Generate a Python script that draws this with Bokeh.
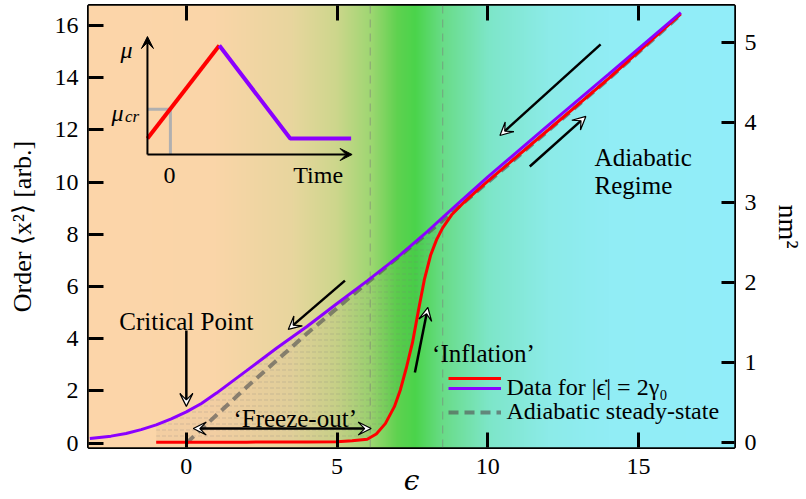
import numpy as np
from bokeh.plotting import figure
from bokeh.models import (Range1d, LinearAxis, FixedTicker, Label, Arrow, VeeHead,
                          Span, Legend, LegendItem, CustomLabelingPolicy)
from bokeh.core.properties import value
from bokeh.embed import file_html
from bokeh.resources import INLINE

# ---------------- data ----------------
eps_purple = [-3.2, -2.5, -2.0, -1.5, -1.0, -0.5, 0.0, 0.5, 1.0, 1.5, 2.0, 3.0, 4.0,
              5.0, 6.0, 7.0, 8.0, 9.0, 10.0, 12.0, 14.0, 16.4]
x2_purple = [0.18, 0.27, 0.37, 0.52, 0.70, 0.93, 1.20, 1.52, 1.92, 2.35, 2.78, 3.65, 4.47,
             5.35, 6.22, 7.12, 8.12, 9.17, 10.20, 12.18, 14.13, 16.50]

eps_red = [-1.0, 0.0, 2.0, 4.0, 5.0, 5.5, 6.0, 6.3, 6.6, 6.9, 7.1, 7.3, 7.5, 7.7, 7.9,
           8.1, 8.3, 8.5, 8.8, 9.2, 9.6, 10.0, 12.0, 14.0, 16.4]
x2_red = [0.04, 0.04, 0.04, 0.05, 0.06, 0.09, 0.15, 0.35, 0.75, 1.40, 2.05, 2.90, 3.85,
          5.10, 6.30, 7.20, 7.80, 8.25, 8.75, 9.22, 9.64, 10.04, 12.00, 13.97, 16.45]

eps_adiab = [0.0, 2.0, 4.0, 6.0, 8.0, 10.0, 12.0, 14.0, 16.4]
x2_adiab = [0.0, 2.15, 4.20, 6.15, 8.05, 10.00, 11.97, 13.95, 16.42]

regime_bounds = [6.1, 8.5]

x_ticks = [0, 5, 10, 15]
y_ticks = [0, 2, 4, 6, 8, 10, 12, 14, 16]
nm_ticks = [0, 1, 2, 3, 4, 5]

# inset schematic: sweep of mu versus time
inset_time_up = [0.0, 7.2]
inset_mu_up = [1.6, 10.9]
inset_time_down = [7.2, 14.3, 20.4]
inset_mu_down = [10.9, 1.6, 1.6]
inset_t_cr = 2.3
inset_mu_cr = 4.53

# background colour stops (epsilon -> rgb)
bg_eps = [-3.3, 1.0, 3.5, 5.0, 6.1, 7.0, 7.6, 8.5, 10.0, 12.0, 14.0, 18.3]
bg_rgb = [(253, 214, 170), (250, 213, 168), (232, 214, 158), (205, 214, 140),
          (160, 215, 115), (95, 210, 80), (75, 212, 75), (105, 220, 135),
          (125, 230, 200), (140, 235, 232), (145, 237, 245), (146, 238, 250)]

FONT = "Liberation Serif, serif"
FS_TICK = "24px"
FS = "25px"

X0, X1 = -3.245, 18.18
Y0, Y1 = -0.165, 16.77

p = figure(width=806, height=499, output_backend="svg", toolbar_location=None,
           x_range=Range1d(X0, X1), y_range=Range1d(Y0, Y1),
           min_border_left=88, min_border_right=71, min_border_top=5,
           min_border_bottom=52)
p.extra_y_ranges = {"nm": Range1d(-0.066, 5.459)}
p.grid.visible = False
p.outline_line_color = "black"
p.outline_line_width = 3
p.background_fill_color = "#fdd6aa"
p.border_fill_color = "white"

# ---- background gradient ----
N = 650
gx = np.linspace(X0, X1, N)
img = np.empty((1, N), dtype=np.uint32)
view = img.view(dtype=np.uint8).reshape((1, N, 4))
for c in range(3):
    view[0, :, c] = np.interp(gx, bg_eps, [rgb[c] for rgb in bg_rgb]).astype(np.uint8)
view[0, :, 3] = 255
bg = p.image_rgba(image=[img], x=X0, y=Y0, dw=X1 - X0, dh=Y1 - Y0)
bg.level = "image"

for b in regime_bounds:
    p.add_layout(Span(location=b, dimension="height", line_color="#7a7a7a",
                      line_alpha=0.45, line_dash="8 6", line_width=1.3, level="underlay"))

# ---- hatched hysteresis region between the two sweeps ----
hx = [e for e in eps_purple if -1.0 <= e <= 9.0] + [e for e in eps_red if -1.0 <= e <= 9.2][::-1]
hy = [v for e, v in zip(eps_purple, x2_purple) if -1.0 <= e <= 9.0] + \
     [v for e, v in zip(eps_red, x2_red) if -1.0 <= e <= 9.2][::-1]
p.patch(hx, hy, fill_color="black", fill_alpha=0.03, line_color=None,
        hatch_pattern="horizontal_dash", hatch_color="#777777", hatch_alpha=0.25,
        hatch_scale=6, hatch_weight=1)

# ---- curves ----
dash_r = p.line(eps_adiab, x2_adiab, line_color="#555555", line_alpha=0.65,
                line_width=4, line_dash="10 6")
red_r = p.line(eps_red, x2_red, line_color="#ff0000", line_width=3)
purple_r = p.line(eps_purple, x2_purple, line_color="#8b00ff", line_width=3)

# ---- axes ----
def style_axis(ax, tick_in):
    ax.axis_line_color = None
    ax.major_tick_in = tick_in
    ax.major_tick_out = 0
    ax.major_tick_line_width = 3
    ax.major_tick_line_color = "black"
    ax.minor_tick_line_color = None
    ax.major_label_text_font = FONT
    ax.major_label_text_font_size = FS_TICK
    ax.major_label_text_color = "black"
    ax.axis_label_text_font = FONT
    ax.axis_label_text_font_size = FS
    ax.axis_label_text_font_style = "normal"
    ax.axis_label_text_color = "black"

xa = p.xaxis[0]
xa.ticker = FixedTicker(ticks=x_ticks)
style_axis(xa, 15)
xa.major_label_standoff = 11
xa.axis_label = "ϵ"
xa.axis_label_text_font = "DejaVu Serif, serif"
xa.axis_label_text_font_style = "italic"
xa.axis_label_text_font_size = "28px"
xa.axis_label_standoff = -13

ya = p.yaxis[0]
ya.ticker = FixedTicker(ticks=y_ticks)
style_axis(ya, 15)
ya.major_label_standoff = 10
ya.axis_label = "Order ⟨x²⟩ [arb.]"
ya.axis_label_text_font_size = "26px"
ya.axis_label_standoff = 15

ra = LinearAxis(y_range_name="nm", ticker=FixedTicker(ticks=nm_ticks), axis_label="nm²")
style_axis(ra, 13)
ra.major_label_standoff = 10
ra.axis_label_text_font_size = "28px"
ra.axis_label_standoff = 13
p.add_layout(ra, "right")

ta = LinearAxis(ticker=FixedTicker(ticks=x_ticks))
style_axis(ta, 15)
ta.major_label_text_font_size = "0px"
ta.major_label_standoff = 0
ta.major_label_policy = CustomLabelingPolicy(code="""
    for (const i of indices) { indices.unset(i) }
    return indices
""")
p.add_layout(ta, "above")

# ---- arrows ----
def arrow(x0, y0, x1, y1, both=False):
    head = lambda: VeeHead(size=13, fill_color="white", line_color="black", line_width=1.2)
    p.add_layout(Arrow(x_start=x0, y_start=y0, x_end=x1, y_end=y1, line_width=2.5,
                       line_color="black", end=head(), start=head() if both else None))

arrow(13.74, 15.28, 10.40, 11.79)
arrow(11.39, 10.60, 13.25, 12.52)
arrow(5.26, 6.23, 3.38, 4.36)
arrow(0.0, 4.32, 0.0, 1.41)
arrow(0.23, 0.56, 6.13, 0.56, both=True)
arrow(7.58, 2.71, 8.01, 5.20)

# ---- annotation texts ----
def label(x, y, text, align="center", size=FS, style="normal", baseline="alphabetic"):
    p.add_layout(Label(x=x, y=y, text=text, text_font=FONT, text_font_size=size,
                       text_font_style=style, text_align=align, text_baseline=baseline,
                       text_color="black"))

label(0.0, 4.66, "Critical Point")
label(3.61, 0.95, "‘Freeze-out’")
label(8.15, 3.44, "‘Inflation’", align="left")
label(13.54, 10.96, "Adiabatic", align="left")
label(13.54, 9.87, "Regime", align="left")

# ---- inset (schematic sweep protocol) ----
IX0, IY0 = -1.29, 11.06
ISX, ISY = 10 / 30.2, 10 / 26.1

def ix(t):
    return [IX0 + v * ISX for v in t]

def iy(m):
    return [IY0 + v * ISY for v in m]

p.line(ix([0, inset_t_cr, inset_t_cr]), iy([inset_mu_cr, inset_mu_cr, 0]),
       line_color="#b0b0b0", line_width=3)
p.line(ix(inset_time_up), iy(inset_mu_up), line_color="#ff0000", line_width=4)
p.line(ix(inset_time_down), iy(inset_mu_down), line_color="#8b00ff", line_width=4)
p.add_layout(Arrow(x_start=ix([0])[0], y_start=iy([0])[0], x_end=ix([20.5])[0], y_end=iy([0])[0],
                   line_width=2, end=VeeHead(size=12, fill_color="black", line_color="black")))
p.add_layout(Arrow(x_start=ix([0])[0], y_start=iy([0])[0], x_end=ix([0])[0], y_end=iy([11.8])[0],
                   line_width=2, end=VeeHead(size=12, fill_color="black", line_color="black")))
label(ix([-2.1])[0], iy([10.5])[0], "μ", style="italic", size="24px", baseline="middle")
label(ix([-3.0])[0], iy([4.2])[0], "μ", style="italic", size="24px", baseline="middle")
label(ix([-1.55])[0], iy([3.85])[0], "cr", style="italic", size="17px", baseline="middle")
label(ix([2.2])[0], iy([-2.05])[0], "0", size="24px", baseline="middle")
label(ix([17.1])[0], iy([-2.0])[0], "Time", size="24px", baseline="middle")

# ---- legend ----
def legend(items, loc):
    lg = Legend(items=items, location=loc, glyph_width=53, glyph_height=26, label_height=26,
                label_standoff=6, padding=0, margin=0, spacing=0, border_line_color=None,
                background_fill_alpha=0, label_text_font=FONT, label_text_font_size="24px",
                label_text_color="black")
    p.add_layout(lg, "center")

legend([LegendItem(label=value(""), renderers=[red_r])], (359.5, 56.5))
legend([LegendItem(label="Data for |ϵ̇| = 2γ₀", renderers=[purple_r])], (359.5, 45.7))
legend([LegendItem(label="Adiabatic steady-state", renderers=[dash_r])], (359.5, 21.7))

open("out.html", "w").write(file_html(p, INLINE))
